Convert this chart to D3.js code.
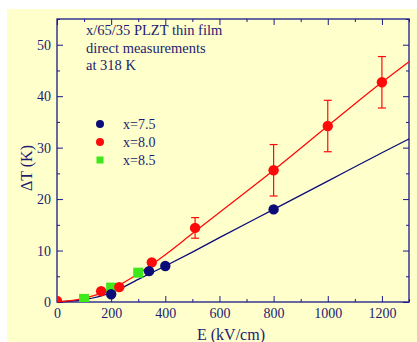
<!DOCTYPE html>
<html>
<head>
<meta charset="utf-8">
<script src="https://cdn.jsdelivr.net/npm/d3@7"></script>
<style>
  body { margin: 0; background: #fff; }
  svg { display: block; }
  text { font-family: "Liberation Serif", "Times New Roman", serif; fill: #1c1c72; }
</style>
</head>
<body>
<svg id="chart" width="417" height="342"></svg>
<script>
// measured points (E in kV/cm, dT in K)
const seriesNames = ["x=7.5", "x=8.0", "x=8.5"];
const e75 = [200, 340, 400, 800];
const t75 = [1.5, 6.0, 7.0, 18.0];
const e80 = [0, 163, 230, 350, 510, 800, 1000, 1200];
const t80 = [0.2, 2.1, 2.9, 7.7, 14.4, 25.6, 34.2, 42.7];
const err80 = [0, 0, 0, 0, 2, 5, 5, 5];
const e85 = [100, 200, 300];
const t85 = [0.6, 2.8, 5.7];

// fit curves
const fitE = [0, 100, 200, 300, 400, 500, 600, 800, 1000, 1200, 1300];
const fit75 = [0, 0.45, 1.8, 4.4, 7.0, 9.7, 12.5, 18.0, 23.5, 29.0, 31.7];
const fit80 = [0, 0.7, 2.5, 5.5, 9.2, 13.3, 17.4, 25.6, 34.2, 42.7, 46.7];

const xTicks = [0, 200, 400, 600, 800, 1000, 1200];
const yTicks = [0, 10, 20, 30, 40, 50];
const noteLines = ["x/65/35 PLZT thin film", "direct measurements", "at 318 K"];

const navy = "#0c0c78", red = "#ff0a0a", green = "#3ee81a", axisCol = "#1a1a8a";

const svg = d3.select("#chart");
svg.append("rect").attr("x", 7).attr("y", 9).attr("width", 410).attr("height", 333).attr("fill", "#ffffcc");

const margin = { left: 57, top: 19, right: 8, bottom: 40 };
const W = 417 - margin.left - margin.right;
const H = 342 - margin.top - margin.bottom;

const x = d3.scaleLinear().domain([0, 1300]).range([0, W]);
const y = d3.scaleLinear().domain([0, 55]).range([H, 0]);

const g = svg.append("g").attr("transform", `translate(${margin.left},${margin.top})`);

// ticks on all four sides, pointing inward
const xMinor = d3.range(0, 1301, 100);
const yMinor = d3.range(0, 56, 5);
function addAxis(axis, tr) {
  const a = g.append("g").attr("transform", tr).call(axis);
  a.select(".domain").remove();
  a.selectAll("line").attr("stroke", axisCol).attr("stroke-width", 1);
  return a;
}
addAxis(d3.axisTop(x).tickValues(xMinor).tickFormat(""), `translate(0,${H})`)
  .selectAll("line").attr("y2", d => d % 200 === 0 ? -6 : -3);
addAxis(d3.axisBottom(x).tickValues(xMinor).tickFormat(""), "translate(0,0)")
  .selectAll("line").attr("y2", d => d % 200 === 0 ? 6 : 3);
addAxis(d3.axisRight(y).tickValues(yMinor).tickFormat(""), "translate(0,0)")
  .selectAll("line").attr("x2", d => d % 10 === 0 ? 6 : 3);
addAxis(d3.axisLeft(y).tickValues(yMinor).tickFormat(""), `translate(${W},0)`)
  .selectAll("line").attr("x2", d => d % 10 === 0 ? -6 : -3);

// tick labels
const xl = d3.axisBottom(x).tickValues(xTicks).tickFormat(d3.format("d")).tickSize(0).tickPadding(0);
const xla = g.append("g").attr("transform", `translate(0,${H})`).call(xl);
xla.select(".domain").remove();
xla.selectAll("text").attr("y", 16).attr("dy", 0).style("font-size", "14px")
  .style("font-family", "Liberation Serif").attr("fill", "#1c1c72");
const yl = d3.axisLeft(y).tickValues(yTicks).tickFormat(d3.format("d")).tickSize(0).tickPadding(0);
const yla = g.append("g").call(yl);
yla.select(".domain").remove();
yla.selectAll("text").attr("x", -6).attr("dy", "0.34em").style("font-size", "14px")
  .style("font-family", "Liberation Serif").attr("fill", "#1c1c72");

// frame
g.append("rect").attr("width", W).attr("height", H).attr("fill", "none")
  .attr("stroke", axisCol).attr("stroke-width", 1.3);

// fit curves
const line = d3.line().x(d => x(d[0])).y(d => y(d[1])).curve(d3.curveMonotoneX);
g.append("path").datum(fitE.map((e, i) => [e, fit75[i]])).attr("d", line)
  .attr("fill", "none").attr("stroke", navy).attr("stroke-width", 1.3);
g.append("path").datum(fitE.map((e, i) => [e, fit80[i]])).attr("d", line)
  .attr("fill", "none").attr("stroke", red).attr("stroke-width", 1.3);

// error bars
const errData = e80.map((e, i) => ({ e, t: t80[i], err: err80[i] })).filter(d => d.err > 0);
const eb = g.selectAll(".eb").data(errData).join("g").attr("stroke", red).attr("stroke-width", 1.2);
eb.append("line").attr("x1", d => x(d.e)).attr("x2", d => x(d.e))
  .attr("y1", d => y(d.t - d.err)).attr("y2", d => y(d.t + d.err));
eb.append("line").attr("x1", d => x(d.e) - 4).attr("x2", d => x(d.e) + 4)
  .attr("y1", d => y(d.t + d.err)).attr("y2", d => y(d.t + d.err));
eb.append("line").attr("x1", d => x(d.e) - 4).attr("x2", d => x(d.e) + 4)
  .attr("y1", d => y(d.t - d.err)).attr("y2", d => y(d.t - d.err));

// markers
const clip = svg.append("defs").append("clipPath").attr("id", "pc");
clip.append("rect").attr("width", W).attr("height", H);
const pts = g.append("g").attr("clip-path", "url(#pc)");
pts.selectAll(".s85").data(e85.map((e, i) => [e, t85[i]])).join("rect")
  .attr("x", d => x(d[0]) - 5).attr("y", d => y(d[1]) - 5)
  .attr("width", 10).attr("height", 10).attr("fill", green);
pts.selectAll(".s80").data(e80.map((e, i) => [e, t80[i]])).join("circle")
  .attr("cx", d => x(d[0])).attr("cy", d => y(d[1])).attr("r", 5.2).attr("fill", red);
pts.selectAll(".s75").data(e75.map((e, i) => [e, t75[i]])).join("circle")
  .attr("cx", d => x(d[0])).attr("cy", d => y(d[1])).attr("r", 5.2).attr("fill", navy);

// annotation
g.append("text").attr("x", 29).attr("y", 16).style("font-size", "14.5px")
  .selectAll("tspan").data(noteLines).join("tspan")
  .attr("x", 29).attr("dy", (d, i) => i === 0 ? 0 : 17.5).text(d => d);

// legend
const legCols = [navy, red, green];
const leg = g.append("g").attr("transform", "translate(43,105)");
seriesNames.forEach((name, i) => {
  const row = leg.append("g").attr("transform", `translate(0,${i * 18})`);
  if (i < 2) row.append("circle").attr("r", 4).attr("fill", legCols[i]);
  else row.append("rect").attr("x", -3.5).attr("y", -3.5).attr("width", 7).attr("height", 7).attr("fill", legCols[i]);
  row.append("text").attr("x", 23).attr("y", 5).style("font-size", "14px").text(name);
});

// axis titles
svg.append("text").attr("x", 231).attr("y", 340).attr("text-anchor", "middle")
  .style("font-size", "16px").text("E (kV/cm)");
svg.append("text").attr("transform", "translate(32,168) rotate(-90)").attr("text-anchor", "middle")
  .style("font-size", "16px").text("ΔT (K)");
</script>
</body>
</html>
